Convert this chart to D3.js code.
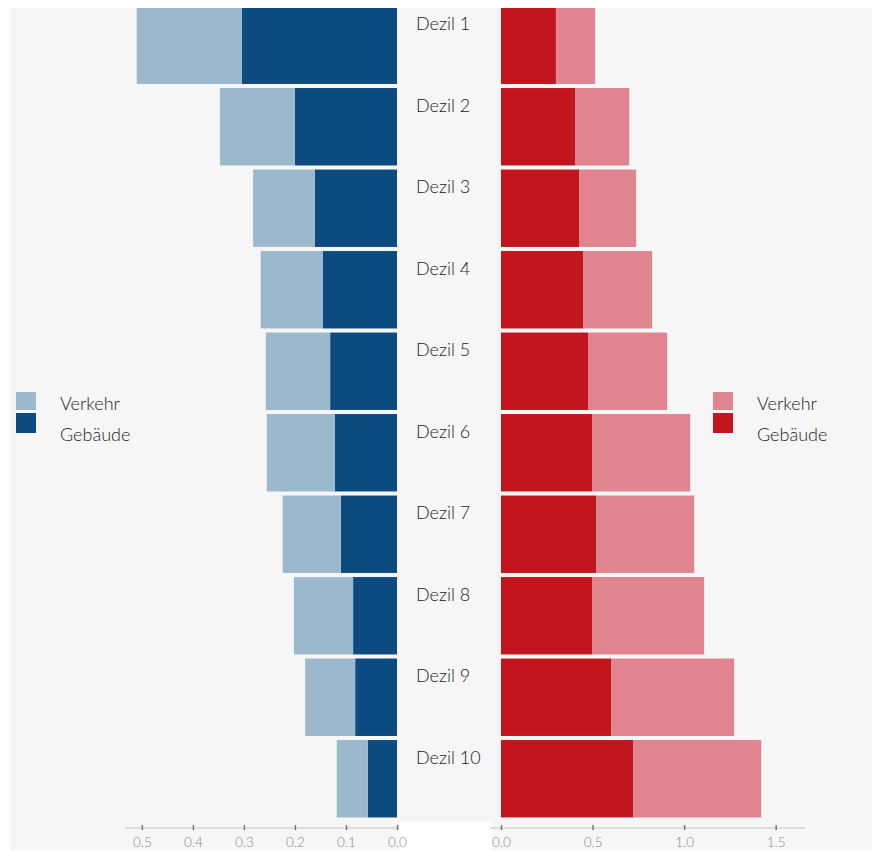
<!DOCTYPE html>
<html>
<head>
<meta charset="utf-8">
<script src="https://cdn.jsdelivr.net/npm/d3@7"></script>
<style>
  html, body { margin: 0; padding: 0; background: #ffffff; }
  svg { display: block; }
  text { font-family: Lato, "Open Sans", sans-serif; font-weight: 300; }
</style>
</head>
<body>
<svg id="chart" width="874" height="853"></svg>
<script>
// Income deciles
const deciles = ["Dezil 1", "Dezil 2", "Dezil 3", "Dezil 4", "Dezil 5",
                 "Dezil 6", "Dezil 7", "Dezil 8", "Dezil 9", "Dezil 10"];

// Left panel (blue): share per decile
const leftGebaeude = [0.304, 0.200, 0.161, 0.145, 0.131, 0.122, 0.110, 0.086, 0.082, 0.057];
const leftVerkehr  = [0.206, 0.147, 0.121, 0.122, 0.126, 0.133, 0.114, 0.116, 0.098, 0.061];

// Right panel (red): amount per decile
const rightGebaeude = [0.300, 0.404, 0.426, 0.448, 0.475, 0.497, 0.519, 0.497, 0.601, 0.721];
const rightVerkehr  = [0.214, 0.296, 0.312, 0.377, 0.432, 0.536, 0.536, 0.612, 0.672, 0.700];

// Axis ticks and legend entries
const leftTicks  = [0.5, 0.4, 0.3, 0.2, 0.1, 0.0];
const rightTicks = [0.0, 0.5, 1.0, 1.5];
const legendKeys = ["Verkehr", "Gebäude"];

const colors = {
  blueDark: "#0c4a80", blueLight: "#9bb8cd",
  redDark: "#c2151d", redLight: "#e0858f",
  bg: "#f6f6f6", text: "#1c1c1c", axis: "#c4c4c4", tick: "#8a8a8a"
};

const svg = d3.select("#chart");

// Background panel
svg.append("rect").attr("x", 10).attr("y", 0).attr("width", 862).attr("height", 850)
  .attr("fill", colors.bg);

// Scales
const y = d3.scaleBand().domain(deciles).range([4.5, 819.5])
  .paddingInner(0.05).paddingOuter(0.025);
const xL = d3.scaleLinear().domain([0, 0.533]).range([397, 125]);
const xR = d3.scaleLinear().domain([0, 1.66]).range([501, 805]);

const rows = deciles.map((d, i) => ({
  label: d,
  lG: leftGebaeude[i], lV: leftVerkehr[i],
  rG: rightGebaeude[i], rV: rightVerkehr[i]
}));

// Left stacked bars (growing leftwards from zero)
const gL = svg.append("g");
gL.selectAll("rect.lg").data(rows).join("rect")
  .attr("x", d => xL(d.lG)).attr("width", d => xL(0) - xL(d.lG))
  .attr("y", d => y(d.label)).attr("height", y.bandwidth())
  .attr("fill", colors.blueDark);
gL.selectAll("rect.lv").data(rows).join("rect")
  .attr("x", d => xL(d.lG + d.lV)).attr("width", d => xL(d.lG) - xL(d.lG + d.lV))
  .attr("y", d => y(d.label)).attr("height", y.bandwidth())
  .attr("fill", colors.blueLight);

// Right stacked bars
const gR = svg.append("g");
gR.selectAll("rect.rg").data(rows).join("rect")
  .attr("x", xR(0)).attr("width", d => xR(d.rG) - xR(0))
  .attr("y", d => y(d.label)).attr("height", y.bandwidth())
  .attr("fill", colors.redDark);
gR.selectAll("rect.rv").data(rows).join("rect")
  .attr("x", d => xR(d.rG)).attr("width", d => xR(d.rG + d.rV) - xR(d.rG))
  .attr("y", d => y(d.label)).attr("height", y.bandwidth())
  .attr("fill", colors.redLight);

// Top margin strip
svg.append("rect").attr("x", 0).attr("y", 0).attr("width", 874).attr("height", 8)
  .attr("fill", "#ffffff");
// Gap under the centre column at the axis row
svg.append("rect").attr("x", 400).attr("y", 822).attr("width", 92).attr("height", 31)
  .attr("fill", "#ffffff");

// Decile labels in the centre column
svg.append("g").selectAll("text").data(rows).join("text")
  .attr("x", 416).attr("y", d => y(d.label) + 16.5)
  .attr("dominant-baseline", "central")
  .attr("font-size", 18).attr("fill", colors.text)
  .text(d => d.label);

// Axes
const axisY = 828;
function drawAxis(scale, ticks, x0, x1) {
  const g = svg.append("g").attr("transform", `translate(0,${axisY})`);
  g.append("line").attr("x1", x0).attr("x2", x1).attr("y1", 0).attr("y2", 0)
    .attr("stroke", colors.axis).attr("stroke-width", 1);
  const ax = d3.axisBottom(scale).tickValues(ticks).tickFormat(d3.format(".1f"))
    .tickSize(-3).tickSizeOuter(0).tickPadding(9);
  g.call(ax);
  g.select(".domain").remove();
  g.selectAll(".tick line").attr("stroke", "#6f6f6f").attr("stroke-width", 1.4)
    .attr("y1", 2);
  g.selectAll(".tick text").attr("fill", colors.tick).attr("font-size", 13.5)
    .attr("font-family", "Lato, 'Open Sans', sans-serif").attr("font-weight", 400);
}
drawAxis(xL, leftTicks, 125, 399);
drawAxis(xR, rightTicks, 490, 805);

// Legends
function drawLegend(x, textX, light, dark) {
  const g = svg.append("g");
  const fills = [light, dark];
  g.selectAll("rect").data(legendKeys).join("rect")
    .attr("x", x).attr("y", (d, i) => 392 + i * 21)
    .attr("width", 20).attr("height", (d, i) => i === 0 ? 18 : 20)
    .attr("fill", (d, i) => fills[i]);
  g.selectAll("text").data(legendKeys).join("text")
    .attr("x", textX).attr("y", (d, i) => 403 + i * 31)
    .attr("dominant-baseline", "central")
    .attr("font-size", 18).attr("fill", colors.text)
    .text(d => d);
}
drawLegend(16, 60, colors.blueLight, colors.blueDark);
drawLegend(713, 757, colors.redLight, colors.redDark);
</script>
</body>
</html>
